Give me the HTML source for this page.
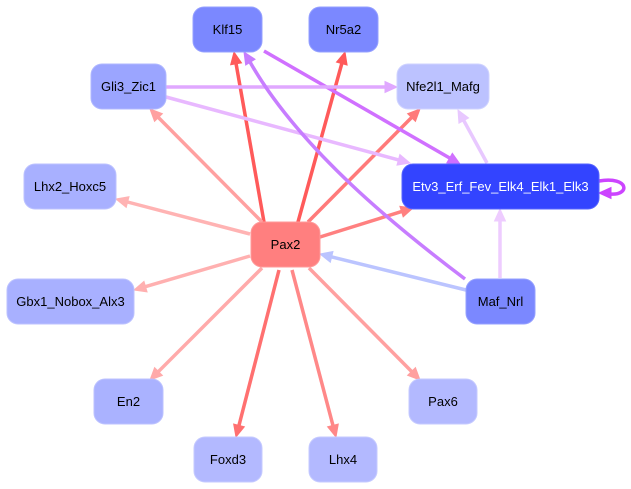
<!DOCTYPE html>
<html><head><meta charset="utf-8"><style>
html,body{margin:0;padding:0;background:#fff;width:631px;height:489px;overflow:hidden}
svg{display:block}
text{font-family:"Liberation Sans",sans-serif;font-size:13px;text-anchor:middle;dominant-baseline:central}
</style></head><body>
<svg id="s" width="631" height="489" viewBox="0 0 631 489" xmlns="http://www.w3.org/2000/svg">
<g id="edges"></g>
<g id="nodes" stroke-width="1">
<rect x="193" y="7" width="69" height="45" rx="11" fill="#7b88ff" stroke="#95a0ff"/><text x="227.5" y="29.5">Klf15</text>
<rect x="309" y="7" width="69" height="45" rx="11" fill="#7b88ff" stroke="#95a0ff"/><text x="343.5" y="29.5">Nr5a2</text>
<rect x="91" y="64" width="75" height="45" rx="11" fill="#9ba5ff" stroke="#b0b8ff"/><text x="128.5" y="86.5">Gli3_Zic1</text>
<rect x="397" y="64" width="92" height="45" rx="11" fill="#bcc2ff" stroke="#cfd3ff"/><text x="443" y="86.5">Nfe2l1_Mafg</text>
<rect x="24" y="164" width="92" height="45" rx="11" fill="#a8b0ff" stroke="#bcc2ff"/><text x="70" y="186.5">Lhx2_Hoxc5</text>
<rect x="402" y="164" width="197" height="45" rx="11" fill="#3344ff" stroke="#5563ff"/><text x="500.5" y="186.5" fill="#fff">Etv3_Erf_Fev_Elk4_Elk1_Elk3</text>
<rect x="251" y="222" width="69" height="45" rx="11" fill="#ff7f7f" stroke="#ff9999"/><text x="285.5" y="244.5">Pax2</text>
<rect x="7" y="279" width="127" height="45" rx="11" fill="#a8b0ff" stroke="#bcc2ff"/><text x="70.5" y="301.5">Gbx1_Nobox_Alx3</text>
<rect x="466" y="279" width="69" height="45" rx="11" fill="#7b88ff" stroke="#95a0ff"/><text x="500.5" y="301.5">Maf_Nrl</text>
<rect x="94" y="379" width="69" height="45" rx="11" fill="#aab2ff" stroke="#bcc2ff"/><text x="128.5" y="401.5">En2</text>
<rect x="409" y="379" width="68" height="45" rx="11" fill="#b3b9ff" stroke="#c5caff"/><text x="443" y="401.5">Pax6</text>
<rect x="194" y="437" width="68" height="45" rx="11" fill="#b3b9ff" stroke="#c5caff"/><text x="228" y="459.5">Foxd3</text>
<rect x="309" y="437" width="68" height="45" rx="11" fill="#b3b9ff" stroke="#c5caff"/><text x="343" y="459.5">Lhx4</text>
</g>
</svg>
<script>
var E=[
[264,222,234,52,"#ff5a5a"],
[298,222,345,52,"#ff5a5a"],
[308,222,420,109,"#ff7a7a"],
[262,222,150,109,"#ffa0a0"],
[250,234,116,199,"#ffb3b3"],
[320,237,413,208,"#ff8080"],
[250,256,134,290,"#ffb0b0"],
[262,268,150,380,"#ffaaaa"],
[279,270,236,437,"#ff7070"],
[292,270,336,437,"#ff8888"],
[309,268,420,380,"#ffa0a0"],
[264,51,460,164,"#d070ff"],
[166,87,397,87,"#e0a8ff"],
[166,97,410,163,"#e8b8ff"],
[487,163,458,110,"#e8c8ff"],
[500,278,500,209,"#eeccff"],
[466,290,320,254,"#bbc4ff"]
];
var g=document.getElementById("edges"),h="";
function arr(x1,y1,x2,y2,c){var dx=x2-x1,dy=y2-y1,L=Math.hypot(dx,dy),ux=dx/L,uy=dy/L,al=12,aw=5.5;
var bx=x2-ux*al,by=y2-uy*al;
return '<polygon points="'+x2+','+y2+' '+(bx-uy*aw)+','+(by+ux*aw)+' '+(bx+uy*aw)+','+(by-ux*aw)+'" fill="'+c+'" stroke="'+c+'"/>';}
E.forEach(function(e){var x1=e[0],y1=e[1],x2=e[2],y2=e[3],c=e[4];var dx=x2-x1,dy=y2-y1,L=Math.hypot(dx,dy);
var ex=x2-dx/L*10,ey=y2-dy/L*10;
h+='<line x1="'+x1+'" y1="'+y1+'" x2="'+ex+'" y2="'+ey+'" stroke="'+c+'" stroke-width="3.5"/>'+arr(x1,y1,x2,y2,c);});
h+='<path d="M465,279 C400,230 300,150 250,62" fill="none" stroke="#c77dff" stroke-width="3.5"/>'+arr(254,68,244,52,"#c77dff");
h+='<path d="M599,181 C630,176 630,196 610,194" fill="none" stroke="#cc44ff" stroke-width="3.5"/>'+arr(614,193,599,193,"#cc44ff");
g.innerHTML=h;
</script>
</body></html>
